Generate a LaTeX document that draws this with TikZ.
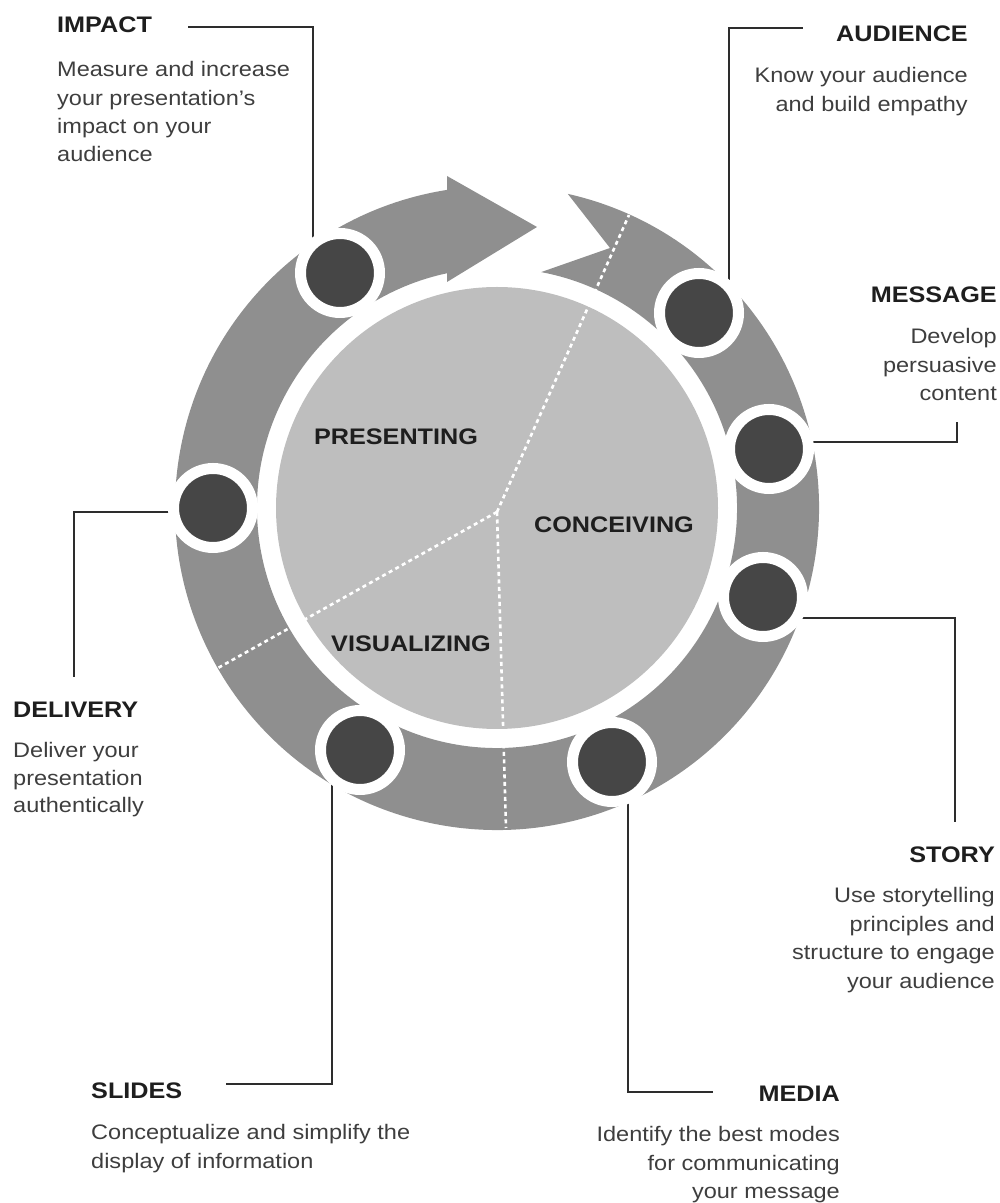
\documentclass[tikz,border=0pt]{standalone}
\usepackage{fontspec}
\setmainfont{Liberation Sans}[FakeStretch=1.12]
\usetikzlibrary{calc}
\definecolor{ringgray}{RGB}{143,143,143}
\definecolor{discgray}{RGB}{190,190,190}
\definecolor{dotgray}{RGB}{70,70,70}
\definecolor{titlecol}{RGB}{30,30,30}
\definecolor{desccol}{RGB}{62,62,62}
\definecolor{linecol}{RGB}{45,45,45}
\pgfdeclarelayer{back}
\pgfsetlayers{back,main}
\begin{document}
\begin{tikzpicture}[x=1pt,y=1pt,
  title/.style={font=\fontsize{22.5}{27}\selectfont\bfseries, text=titlecol, inner sep=0pt},
  desc/.style={font=\fontsize{21}{28}\selectfont, text=desccol, inner sep=0pt},
  stage/.style={font=\fontsize{22.5}{27}\selectfont\bfseries, text=titlecol, inner sep=0pt, anchor=base},
  dot/.style={circle, fill=dotgray, draw=white, line width=11pt, minimum size=79pt, inner sep=0pt},
  callout/.style={draw=linecol, line width=1.8pt},
  divider/.style={draw=white, line width=2.6pt, dash pattern=on 4pt off 3.5pt}]
\useasboundingbox (0,0) rectangle (1000,1203);
\coordinate (C) at (497,695);
% circular arrow band
\fill[ringgray] ($(C)+(77.3:322)$) arc[start angle=77.3, end angle=-261.1, radius=322pt]
  -- (447,1027) -- (537,976) -- (447,921) -- ($(C)+(-258:240)$)
  arc[start angle=-258, end angle=79.4, radius=240pt] -- (610,955) -- cycle;
% inner disc
\fill[discgray] (C) circle[radius=221pt];
% dividers
\coordinate (J) at (497,691);
\coordinate (J1) at (629,988);
\coordinate (J2) at (218,535);
\coordinate (J3) at (506,375);
\draw[divider] (J) -- (J1);
\draw[divider] (J) -- (J2);
\draw[divider] (J) -- (J3);
% stage labels
\node[stage] (presenting) at (396,758) {PRESENTING};
\node[stage] (conceiving) at (614,670) {CONCEIVING};
\node[stage] (visualizing) at (411,551) {VISUALIZING};
% dots
\node[dot] (impact-dot) at (340,930) {};
\node[dot] (audience-dot) at (699,890) {};
\node[dot] (message-dot) at (769,754) {};
\node[dot] (story-dot) at (763,606) {};
\node[dot] (media-dot) at (612,441) {};
\node[dot] (slides-dot) at (360,453) {};
\node[dot] (delivery-dot) at (213,695) {};
% titles
\node[title, anchor=base west] (impact-t) at (57,1170) {IMPACT};
\node[title, anchor=base east] (audience-t) at (968,1161) {AUDIENCE};
\node[title, anchor=base east] (message-t) at (997,900) {MESSAGE};
\node[title, anchor=base east] (story-t) at (995,340) {STORY};
\node[title, anchor=base east] (media-t) at (840,101) {MEDIA};
\node[title, anchor=base west] (slides-t) at (91,104) {SLIDES};
\node[title, anchor=base west] (delivery-t) at (13,485) {DELIVERY};
% descriptions
\foreach \s [count=\i] in {Measure and increase, your presentation’s, impact on your, audience}
  \node[desc, anchor=base west] (impact-d\i) at (57,{1154.3-28.3*\i}) {\s};
\foreach \s [count=\i] in {Know your audience, and build empathy}
  \node[desc, anchor=base east] (audience-d\i) at (968,{1148.5-28.5*\i}) {\s};
\foreach \s [count=\i] in {Develop, persuasive, content}
  \node[desc, anchor=base east] (message-d\i) at (997,{887.3-28.3*\i}) {\s};
\foreach \s [count=\i] in {Use storytelling, principles and, structure to engage, your audience}
  \node[desc, anchor=base east] (story-d\i) at (995,{328.5-28.5*\i}) {\s};
\foreach \s [count=\i] in {Identify the best modes, for communicating, your message}
  \node[desc, anchor=base east] (media-d\i) at (840,{89.3-28.3*\i}) {\s};
\foreach \s [count=\i] in {Conceptualize and simplify the, display of information}
  \node[desc, anchor=base west] (slides-d\i) at (91,{91.3-28.3*\i}) {\s};
\foreach \s [count=\i] in {Deliver your, presentation, authentically}
  \node[desc, anchor=base west] (delivery-d\i) at (13,{472.5-27.5*\i}) {\s};
% callout corners and free ends
\coordinate (ia) at (188,1176); \coordinate (ic) at (313,1176);
\coordinate (aa) at (803,1175); \coordinate (ac) at (729,1175);
\coordinate (mc) at (957,761);  \coordinate (me) at (957,781);
\coordinate (sc) at (955,585);  \coordinate (se) at (955,381);
\coordinate (dc) at (628,111);  \coordinate (de) at (713,111);
\coordinate (lc) at (332,119);  \coordinate (le) at (226,119);
\coordinate (vc) at (74,691);   \coordinate (ve) at (74,526);
\begin{pgfonlayer}{back}
\draw[callout] (impact-dot.center -| ic) -- (ic) -- (ia);
\draw[callout] (audience-dot.center -| ac) -- (ac) -- (aa);
\draw[callout] (message-dot.center |- mc) -- (mc) -- (me);
\draw[callout] (story-dot.center |- sc) -- (sc) -- (se);
\draw[callout] (media-dot.center -| dc) -- (dc) -- (de);
\draw[callout] (slides-dot.center -| lc) -- (lc) -- (le);
\draw[callout] (delivery-dot.center |- vc) -- (vc) -- (ve);
\end{pgfonlayer}
\end{tikzpicture}
\end{document}
